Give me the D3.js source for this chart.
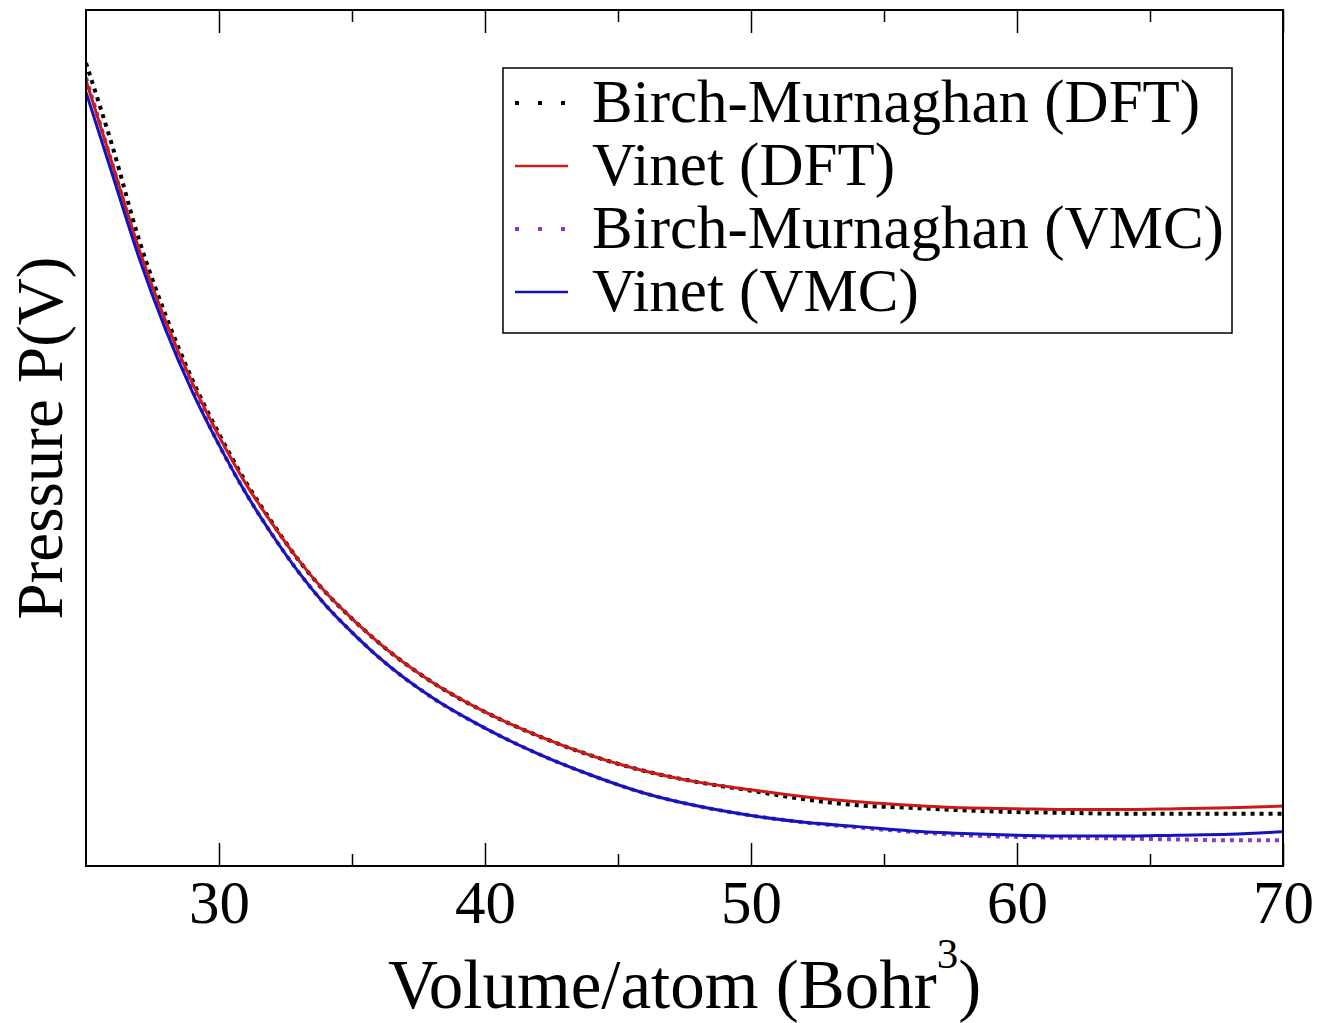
<!DOCTYPE html>
<html>
<head>
<meta charset="utf-8">
<script src="https://cdn.jsdelivr.net/npm/d3@7"></script>
<style>
  body { margin: 0; background: #fff; }
  text { font-family: "Liberation Serif", "Times New Roman", serif; fill: #000; }
</style>
</head>
<body>
<script>
// volume grid (Bohr^3/atom) and pressures (arbitrary units)
var volumes = [25,26,27,28,29,30,31,32,33,34,35,36,38,40,42,44,46,48,50,52,54,56,58,60,62,64,66,68,70];

var birchDFT = [93.8,84.0,73.1,64.3,56.8,50.5,44.9,40.1,35.7,32.0,28.9,26.1,21.5,18.0,15.2,12.9,11.1,9.8,8.8,7.8,7.1,6.8,6.5,6.3,6.2,6.1,6.1,6.1,6.1];
var vinetDFT  = [91.8,81.9,72.0,63.6,56.4,50.2,44.7,40.0,35.7,32.0,28.9,26.1,21.5,18.0,15.2,12.9,11.1,9.8,8.9,8.1,7.5,7.1,6.8,6.7,6.6,6.6,6.7,6.8,7.0];
var birchVMC  = [92.1,81.9,71.7,63.1,55.7,49.2,43.6,38.7,34.3,30.5,27.3,24.4,19.7,16.1,13.1,10.6,8.5,7.0,5.9,5.1,4.5,4.0,3.6,3.4,3.3,3.2,3.1,3.0,3.0];
var vinetVMC  = [90.4,80.7,71.0,62.6,55.4,49.2,43.6,38.7,34.3,30.5,27.3,24.4,19.7,16.1,13.1,10.6,8.5,7.0,5.9,5.1,4.6,4.1,3.8,3.6,3.5,3.5,3.6,3.7,4.0];

var seriesNames = ["Birch-Murnaghan (DFT)", "Vinet (DFT)", "Birch-Murnaghan (VMC)", "Vinet (VMC)"];
var majorTicks = [30, 40, 50, 60, 70];
var minorTicks = [35, 45, 55, 65];

var width = 1324, height = 1023;
var m = {left: 86, right: 1283, top: 10, bottom: 866};

var svg = d3.select("body").append("svg")
    .attr("width", width)
    .attr("height", height);

var x = d3.scaleLinear().domain([25, 70]).range([m.left, m.right]);
var y = d3.scaleLinear().domain([0, 100]).range([m.bottom, m.top]);

svg.append("clipPath").attr("id", "plot")
  .append("rect")
    .attr("x", m.left).attr("y", m.top)
    .attr("width", m.right - m.left).attr("height", m.bottom - m.top);

var series = [
  {name: seriesNames[0], values: birchDFT, color: "#000000", dash: "4,5", width: 4},
  {name: seriesNames[1], values: vinetDFT, color: "#cc1a1a", dash: null, width: 3},
  {name: seriesNames[2], values: birchVMC, color: "#8a3cc8", dash: "4,5", width: 4},
  {name: seriesNames[3], values: vinetVMC, color: "#1414bb", dash: null, width: 3}
];

var line = d3.line()
    .x(function (d) { return x(d[0]); })
    .y(function (d) { return y(d[1]); })
    .curve(d3.curveMonotoneX);

// dotted ones first so the solid lines sit over them
var order = [0, 2, 1, 3];
svg.append("g").attr("clip-path", "url(#plot)")
  .selectAll("path")
  .data(order.map(function (i) { return series[i]; }))
  .enter().append("path")
    .attr("d", function (s) { return line(volumes.map(function (v, i) { return [v, s.values[i]]; })); })
    .attr("fill", "none")
    .attr("stroke", function (s) { return s.color; })
    .attr("stroke-width", function (s) { return s.width; })
    .attr("stroke-dasharray", function (s) { return s.dash; });

// axes with inward ticks
function styleAxis(g) {
  g.select(".domain").remove();
  g.selectAll("line").attr("stroke", "#000").attr("stroke-width", 1.5);
}

svg.append("g").attr("transform", "translate(0," + m.bottom + ")")
  .call(d3.axisBottom(x).tickValues(majorTicks).tickSize(-23).tickSizeOuter(0))
  .call(styleAxis)
  .call(function (g) {
    g.selectAll("text")
      .attr("y", 57).attr("dy", null)
      .attr("fill", "#000")
      .style("font-size", "61px")
      .style("font-family", "Liberation Serif");
  });
svg.append("g").attr("transform", "translate(0," + m.bottom + ")")
  .call(d3.axisBottom(x).tickValues(minorTicks).tickSize(-12).tickFormat(""))
  .call(styleAxis);
svg.append("g").attr("transform", "translate(0," + m.top + ")")
  .call(d3.axisTop(x).tickValues(majorTicks).tickSize(-23).tickFormat(""))
  .call(styleAxis);
svg.append("g").attr("transform", "translate(0," + m.top + ")")
  .call(d3.axisTop(x).tickValues(minorTicks).tickSize(-12).tickFormat(""))
  .call(styleAxis);

// frame
svg.append("rect")
    .attr("x", m.left).attr("y", m.top)
    .attr("width", m.right - m.left).attr("height", m.bottom - m.top)
    .attr("fill", "none").attr("stroke", "#000").attr("stroke-width", 2);

// axis titles
var xt = svg.append("text")
    .attr("x", (m.left + m.right) / 2).attr("y", 1008)
    .attr("text-anchor", "middle")
    .style("font-size", "69px");
xt.append("tspan").text("Volume/atom (Bohr");
xt.append("tspan").attr("dy", -40).style("font-size", "43px").text("3");
xt.append("tspan").attr("dy", 40).text(")");

svg.append("text")
    .attr("transform", "translate(62," + ((m.top + m.bottom) / 2) + ") rotate(-90)")
    .attr("text-anchor", "middle")
    .style("font-size", "65px")
    .text("Pressure P(V)");

// legend
var legend = svg.append("g");
legend.append("rect")
    .attr("x", 503).attr("y", 68).attr("width", 729).attr("height", 265)
    .attr("fill", "#fff").attr("stroke", "#000").attr("stroke-width", 1.5);

var rows = legend.selectAll("g.row")
  .data(series)
  .enter().append("g")
    .attr("class", "row")
    .attr("transform", function (d, i) { return "translate(0," + (122 + i * 63) + ")"; });

rows.append("line")
    .attr("x1", 515).attr("x2", 568)
    .attr("y1", -19).attr("y2", -19)
    .attr("stroke", function (d) { return d.color; })
    .attr("stroke-width", function (d) { return d.dash ? 4 : 2.5; })
    .attr("stroke-dasharray", function (d) { return d.dash ? "4,19" : null; });

rows.append("text")
    .attr("x", 592).attr("y", 0)
    .style("font-size", "61px")
    .text(function (d) { return d.name; });
</script>
</body>
</html>
